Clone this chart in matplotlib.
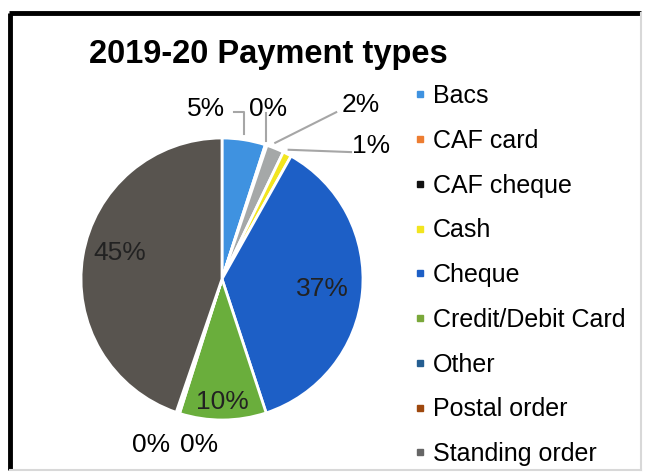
import matplotlib.pyplot as plt
from matplotlib.lines import Line2D
import numpy as np

plt.rcParams['font.family'] = ['Liberation Sans', 'DejaVu Sans']

categories = ['Bacs', 'CAF card', 'CAF cheque', 'Cash', 'Cheque',
              'Credit/Debit Card', 'Other', 'Postal order', 'Standing order']
shares = [5, 0.2, 2, 1, 37, 10, 0.2, 0.2, 45]
pct_labels = ['5%', '0%', '2%', '1%', '37%', '10%', '0%', '0%', '45%']
slice_colors = ['#3f92e0', '#ed7d31', '#a5a8a8', '#f2e51f', '#1d5fc6',
                '#6aae3c', '#255e91', '#9e480e', '#58544f']
legend_colors = ['#3f92e0', '#ed7d31', '#111111', '#f2e51f', '#1d5fc6',
                 '#7aa83a', '#255e91', '#9e480e', '#666666']

W, H = 645, 475
fig = plt.figure(figsize=(W / 100, H / 100), dpi=100)

# frame around the chart: heavy on left/top, faint on right/bottom
fig.add_artist(Line2D([10 / W, 10 / W], [5 / H, 1 - 13 / H], color='black', lw=3.5,
                      transform=fig.transFigure, solid_capstyle='butt'))
fig.add_artist(Line2D([8.5 / W, 641 / W], [1 - 13 / H, 1 - 13 / H], color='black', lw=3.5,
                      transform=fig.transFigure, solid_capstyle='butt'))
fig.add_artist(Line2D([641 / W, 641 / W], [5 / H, 1 - 13 / H], color='#d8d8d8', lw=1.5,
                      transform=fig.transFigure))
fig.add_artist(Line2D([10 / W, 641 / W], [5 / H, 5 / H], color='#d8d8d8', lw=1.5,
                      transform=fig.transFigure))

fig.text(268 / W, 1 - 55 / H, '2019-20 Payment types', ha='center', va='center',
         fontsize=23.5, fontweight='bold')

cx, cy, r = 222, 279, 141
ax = fig.add_axes([(cx - r) / W, (H - cy - r) / H, 2 * r / W, 2 * r / H])
wedges, _ = ax.pie(shares, colors=slice_colors, startangle=90, counterclock=False,
                   radius=1, wedgeprops=dict(edgecolor='white', linewidth=2))
ax.set_xlim(-1, 1)
ax.set_ylim(-1, 1)
ax.axis('off')


def mid_point(w, rad=1.0):
    ang = np.deg2rad((w.theta1 + w.theta2) / 2)
    return rad * np.cos(ang), rad * np.sin(ang)


# inside labels: index -> (radius fraction, angle nudge in degrees)
inside = {4: (0.715, 0), 5: (0.87, 0), 8: (0.75, -5)}
for i, (rf, nudge) in inside.items():
    w = wedges[i]
    ang = np.deg2rad((w.theta1 + w.theta2) / 2 + nudge)
    ax.text(rf * np.cos(ang), rf * np.sin(ang), pct_labels[i], ha='center',
            va='center', fontsize=19, color='#222222')

# outside labels (text positions in pie-axis units)
outside_pos = {0: (-0.11, 1.205), 1: (0.325, 1.205), 2: (0.985, 1.235),
               3: (1.055, 0.945), 6: (-0.505, -1.18), 7: (-0.16, -1.18)}
for i, (tx, ty) in outside_pos.items():
    ax.text(tx, ty, pct_labels[i], ha='center', va='center', fontsize=19)

line_kw = dict(color='#a6a6a6', lw=1.5)
# 5% elbow leader
px, py = mid_point(wedges[0])
ax.plot([0.085, px, px], [1.183, 1.183, py + 0.04], clip_on=False, **line_kw)
# 0% (CAF card) vertical leader
px, py = mid_point(wedges[1])
ax.plot([px, px], [1.176, py + 0.03], clip_on=False, **line_kw)
# 2% diagonal leader
px, py = mid_point(wedges[2])
ax.plot([0.81, px], [1.183, py + 0.04], clip_on=False, **line_kw)
# 1% horizontal leader
px, py = mid_point(wedges[3])
ax.plot([0.915, px + 0.01], [0.90, py + 0.03], clip_on=False, **line_kw)

handles = [Line2D([], [], marker='s', linestyle='none', markersize=5,
                  color=c) for c in legend_colors]
fig.legend(handles, categories, loc='upper left', bbox_to_anchor=(0.624, 0.844),
           frameon=False, fontsize=18, handlelength=0.6, handletextpad=0.22,
           labelspacing=0.83, borderaxespad=0)

fig.savefig('out.png', dpi=100)
